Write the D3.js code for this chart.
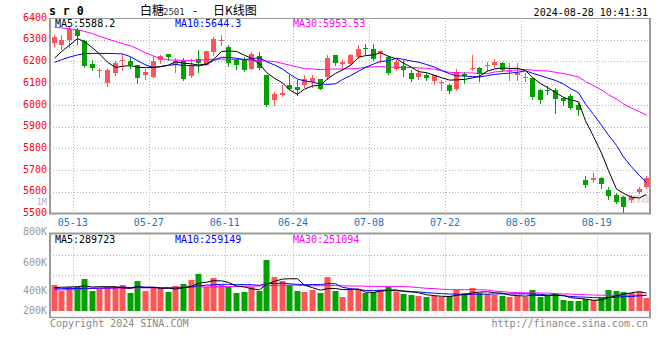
<!DOCTYPE html>
<html><head><meta charset="utf-8">
<script src="https://cdn.jsdelivr.net/npm/d3@7"></script>
<style>
html,body{margin:0;padding:0;background:#fff;}
svg{display:block;}
</style></head><body>
<svg id="c" width="660" height="360"></svg>
<script>
// ---------- DATA ----------
const dates = ["05-09","05-10","05-13","05-14","05-15","05-16","05-17","05-20","05-21","05-22","05-23","05-24","05-27","05-28","05-29","05-30","05-31","06-03","06-04","06-05","06-06","06-07","06-11","06-12","06-13","06-14","06-17","06-18","06-19","06-20","06-21","06-24","06-25","06-26","06-27","06-28","07-01","07-02","07-03","07-04","07-05","07-08","07-09","07-10","07-11","07-12","07-15","07-16","07-17","07-18","07-19","07-22","07-23","07-24","07-25","07-26","07-29","07-30","07-31","08-01","08-02","08-05","08-06","08-07","08-08","08-09","08-12","08-13","08-14","08-15","08-16","08-19","08-20","08-21","08-22","08-23","08-26","08-27","08-28"];
const opens = [6286,6277,6297,6343,6294,6186,6155,6102,6146,6203,
 6200,6185,6139,6128,6208,6232,6182,6200,6133,6212,
 6185,6243,6295,6266,6205,6212,6166,6223,6136,6021,
 6044,6090,6082,6093,6105,6117,6128,6228,6189,6189,
 6220,6262,6258,6239,6220,6166,6179,6146,6128,6136,
 6110,6100,6090,6071,6143,6166,6168,6177,6184,6191,
 6151,6138,6122,6122,6069,6070,6069,6030,6041,6000,
 5652,5652,5663,5609,5587,5575,5560,5598,5624];
const highs = [6323,6323,6358,6354,6297,6205,6169,6166,6200,6236,
 6220,6185,6166,6225,6231,6235,6217,6217,6212,6251,
 6246,6312,6320,6274,6212,6220,6243,6243,6139,6059,
 6090,6139,6113,6136,6139,6120,6228,6231,6208,6235,
 6274,6282,6282,6251,6223,6205,6205,6159,6166,6146,
 6139,6113,6097,6166,6151,6228,6174,6199,6210,6199,
 6191,6191,6145,6130,6072,6087,6076,6038,6050,6007,
 5673,5686,5670,5621,5594,5581,5586,5624,5673];
const lows = [6271,6259,6266,6282,6174,6159,6128,6087,6139,6159,
 6170,6102,6117,6128,6193,6205,6151,6113,6128,6151,
 6182,6228,6274,6179,6166,6154,6163,6166,5995,5998,
 6041,6074,6044,6082,6082,6071,6120,6185,6169,6185,
 6215,6235,6205,6197,6143,6159,6133,6108,6120,6116,
 6097,6067,6056,6067,6102,6159,6108,6157,6174,6154,
 6115,6115,6110,6025,6010,6050,5961,6000,5980,5953,
 5624,5646,5617,5566,5547,5504,5555,5594,5617];
const closes = [6312,6301,6348,6317,6179,6169,6160,6159,6194,6208,
 6182,6123,6150,6200,6223,6220,6200,6117,6185,6194,
 6246,6305,6300,6194,6185,6159,6235,6169,5998,6051,
 6054,6074,6067,6117,6123,6074,6217,6194,6197,6228,
 6258,6256,6212,6246,6146,6197,6159,6117,6146,6123,
 6136,6104,6062,6151,6133,6172,6140,6182,6199,6161,
 6155,6145,6130,6038,6022,6067,6026,6020,5984,5976,
 5630,5664,5636,5581,5552,5532,5575,5615,5665];
const volumes = [423,329,385,385,521,324,362,385,385,417,
 291,488,324,385,356,307,406,439,505,604,
 385,537,423,385,291,313,394,329,834,549,
 494,423,324,313,340,291,549,329,230,340,
 340,286,313,340,385,313,275,258,246,220,
 242,220,242,340,286,378,286,270,261,242,
 230,242,220,340,220,242,275,176,159,159,
 188,176,204,340,324,307,296,307,214].map(v => v * 1000);
// moving-average values before enough history is visible
const ma5Head = [6215,6245,6275,6305];
const ma10Head = [6196,6208,6220,6230,6236,6237,6237,6237,6236];
const ma30Head = [6358,6354,6350,6346,6338,6328,6316,6304,6292,6282,6272,6258,6240,6225,6214,6208,6206,6205,6205,6206,6208,6210,6211,6210,6209,6208,6206,6204,6202];
const volMa5Head = [380000,385000,390000,395000];
const volMa10Head = [360000,362000,364000,366000,368000,370000,372000,374000,376000];
const volMa30Head = [340000,342000,344000,346000,360000,365000,368000,370000,372000,373000,374000,375000,376000,378000,380000,382000,384000,386000,388000,390000,392000,394000,396000,398000,400000,402000,404000,406000,410000];
const dateTicks = ["05-13","05-27","06-11","06-24","07-08","07-22","08-05","08-19"];
const priceTicks = [5500,5600,5700,5800,5900,6000,6100,6200,6300,6400];
const volTicks = [200000,400000,600000,800000,1000000];
const priceLegend = ["MA5:5588.2","MA10:5644.3","MA30:5953.53"];
const volLegend = ["MA5:289723","MA10:259149","MA30:251094"];
const titleParts = ["白糖","2501","-","日K线图"];
const symbolText = "s r 0";
const timeText = "2024-08-28 10:41:31";
const copyText = "Copyright 2024 SINA.COM";
const urlText = "http://finance.sina.com.cn";

// ---------- LAYOUT ----------
const L = 50, R = 650;
const pTop = 18, pBot = 213.5;
const vTop = 233.5, vBot = 317.5, vBase = 310.7;
const RED = "#ff5555", GREEN = "#00a200";
const maColors = ["#000000", "#0000ff", "#ff00ff"];
const mono = "'DejaVu Sans Mono', monospace";

const svg = d3.select("#c");
const x = d3.scaleBand().domain(dates).range([L, R]).padding(0);
const bw = x.bandwidth();
const cx = d => Math.round(x(d) + bw / 2);
const y = d3.scaleLinear().domain([5500, 6400]).range([pBot, pTop]);
const yv = d3.scaleLinear().domain([0, 1270000]).range([vBase, vTop]);
const volLabelPos = d3.scaleLinear().domain(volTicks).range([310, 290, 262, 231, 201.5]);

function ma(vals, n, head) {
  return vals.map((v, i) => i < n - 1 ? head[i] : d3.mean(vals.slice(i - n + 1, i + 1)));
}

const gridColor = "#b4b4b4";
const frameColor = "#9a9a9a";

// ---------- PRICE GRID ----------
const grid = svg.append("g").attr("stroke", gridColor).attr("stroke-dasharray", "1,2").attr("stroke-width", 1);
priceTicks.filter(t => t > 5500 && t < 6400).forEach(t => {
  const yy = Math.round(y(t)) + 0.5;
  grid.append("line").attr("x1", L).attr("x2", R).attr("y1", yy).attr("y2", yy);
});
dateTicks.forEach(d => {
  const xx = Math.round(x(d) + bw) + 0.5;
  grid.append("line").attr("x1", xx).attr("x2", xx).attr("y1", pTop).attr("y2", pBot);
  grid.append("line").attr("x1", xx).attr("x2", xx).attr("y1", vTop).attr("y2", vBot);
});
[255.5, 275.5].forEach(yy => grid.append("line").attr("x1", L).attr("x2", R).attr("y1", yy).attr("y2", yy));

// clip paths
const defs = svg.append("defs");
defs.append("clipPath").attr("id", "pclip").append("rect").attr("x", L).attr("y", pTop).attr("width", R - L).attr("height", pBot - pTop);
defs.append("clipPath").attr("id", "vclip").append("rect").attr("x", L).attr("y", vTop).attr("width", R - L).attr("height", vBot - vTop);

// watermark
svg.append("text").attr("x", 618).attr("y", 203)
  .attr("font-family", "'DejaVu Sans', sans-serif").attr("font-style", "italic").attr("font-weight", "bold")
  .attr("font-size", 14).attr("fill", "#d6bcbc").attr("opacity", 0.55).text("sina");

// ---------- CANDLES ----------
const cg = svg.append("g").attr("clip-path", "url(#pclip)");
dates.forEach((d, i) => {
  const o = opens[i], c = closes[i], h = highs[i], l = lows[i];
  const col = c >= o ? RED : GREEN;
  const xc = cx(d);
  cg.append("line").attr("x1", xc + 0.5).attr("x2", xc + 0.5)
    .attr("y1", Math.round(y(h))).attr("y2", Math.round(y(l)) + 1).attr("stroke", col).attr("stroke-width", 1);
  const top = Math.round(y(Math.max(o, c)));
  const bot = Math.round(y(Math.min(o, c)));
  cg.append("rect").attr("x", xc - 2).attr("width", 5).attr("y", top).attr("height", Math.max(1, bot - top))
    .attr("fill", col);
});

// ---------- PRICE MA LINES ----------
const maSeries = [ma(closes, 5, ma5Head), ma(closes, 10, ma10Head), ma(closes, 30, ma30Head)];
const lg = svg.append("g").attr("clip-path", "url(#pclip)");
[2, 1, 0].forEach(k => {
  lg.append("path").datum(maSeries[k])
    .attr("d", d3.line().x((v, i) => cx(dates[i]) + 0.5).y(v => y(v)))
    .attr("fill", "none").attr("stroke", maColors[k]).attr("stroke-width", 1);
});

// ---------- VOLUME BARS ----------
const vg = svg.append("g").attr("clip-path", "url(#vclip)");
dates.forEach((d, i) => {
  const col = closes[i] >= opens[i] ? RED : GREEN;
  const top = Math.round(yv(volumes[i]));
  vg.append("rect").attr("x", cx(d) - 2.5).attr("width", 6).attr("y", top).attr("height", Math.round(vBase) - top)
    .attr("fill", col);
});
const volMa = [ma(volumes, 5, volMa5Head), ma(volumes, 10, volMa10Head), ma(volumes, 30, volMa30Head)];
[2, 1, 0].forEach(k => {
  vg.append("path").datum(volMa[k])
    .attr("d", d3.line().x((v, i) => cx(dates[i]) + 0.5).y(v => yv(v)))
    .attr("fill", "none").attr("stroke", maColors[k]).attr("stroke-width", 1);
});

// ---------- FRAMES ----------
const fr = svg.append("g").attr("stroke", frameColor).attr("fill", "none");
fr.append("line").attr("x1", L).attr("x2", R + 1).attr("y1", pTop + 0.5).attr("y2", pTop + 0.5).attr("stroke-width", 1);
fr.append("line").attr("x1", L).attr("x2", L).attr("y1", pTop).attr("y2", pBot + 1).attr("stroke-width", 2);
fr.append("line").attr("x1", R).attr("x2", R).attr("y1", pTop).attr("y2", pBot + 1).attr("stroke-width", 2);
fr.append("line").attr("x1", L - 1).attr("x2", R + 1).attr("y1", pBot).attr("y2", pBot).attr("stroke-width", 2);
fr.append("line").attr("x1", L - 1).attr("x2", R + 1).attr("y1", vTop).attr("y2", vTop).attr("stroke-width", 2);
fr.append("line").attr("x1", L).attr("x2", L).attr("y1", vTop).attr("y2", vBot).attr("stroke-width", 2);
fr.append("line").attr("x1", R).attr("x2", R).attr("y1", vTop).attr("y2", vBot).attr("stroke-width", 2);
fr.append("line").attr("x1", L - 1).attr("x2", R + 1).attr("y1", vBot).attr("y2", vBot).attr("stroke-width", 1.5);

// ---------- AXES ----------
const yAxis = svg.append("g").attr("transform", "translate(47,-1)")
  .call(d3.axisLeft(y).tickValues(priceTicks).tickSize(0).tickPadding(0).tickFormat(d3.format("d")));
yAxis.select(".domain").remove();
yAxis.selectAll("text").attr("fill", "#ff0000").attr("font-family", mono).attr("font-size", 10);

const vAxis = svg.append("g").attr("transform", "translate(47,0)")
  .call(d3.axisLeft(volLabelPos).tickValues(volTicks).tickSize(0).tickPadding(0)
    .tickFormat(d => d >= 1000000 ? (d / 1000000) + "M" : (d / 1000) + "K"));
vAxis.select(".domain").remove();
vAxis.selectAll("text").attr("fill", d => d >= 1000000 ? "#b0b0b0" : "#999999").attr("font-family", mono)
  .attr("font-size", d => d >= 1000000 ? 8.5 : 10);

const xAxis = svg.append("g").attr("transform", `translate(${bw / 2},${pBot + 3})`)
  .call(d3.axisBottom(x).tickValues(dateTicks).tickSize(0).tickPadding(0));
xAxis.select(".domain").remove();
xAxis.selectAll("text").attr("fill", "#1a74c4").attr("font-family", mono).attr("font-size", 10).attr("dy", "0.9em");

// ---------- TEXTS ----------
svg.append("text").attr("x", 49).attr("y", 15).attr("font-family", mono).attr("font-weight", "bold")
  .attr("font-size", 11.5).attr("fill", "#000").text(symbolText);
const title = svg.append("text").attr("y", 15).attr("fill", "#000");
title.append("tspan").attr("x", 140).attr("font-family", "'Noto Sans CJK SC', sans-serif").attr("font-size", 12).text(titleParts[0]);
title.append("tspan").attr("x", 163).attr("font-family", mono).attr("font-size", 9).attr("fill", "#333").text(titleParts[1]);
title.append("tspan").attr("x", 193).attr("font-family", "'Noto Sans CJK SC', sans-serif").attr("font-size", 12).text(titleParts[2]);
title.append("tspan").attr("x", 213).attr("font-family", "'Noto Sans CJK SC', sans-serif").attr("font-size", 12).text(titleParts[3]);
svg.append("text").attr("x", 648).attr("y", 15.5).attr("text-anchor", "end").attr("font-family", mono)
  .attr("font-size", 10).attr("fill", "#000").text(timeText);

const legX = [55, 175, 293];
priceLegend.forEach((t, k) => svg.append("text").attr("x", legX[k]).attr("y", 27).attr("font-family", mono)
  .attr("font-size", 10).attr("fill", maColors[k]).text(t));
volLegend.forEach((t, k) => svg.append("text").attr("x", legX[k]).attr("y", 242.5).attr("font-family", mono)
  .attr("font-size", 10).attr("fill", maColors[k]).text(t));

svg.append("text").attr("x", 50).attr("y", 327).attr("font-family", mono).attr("font-size", 10)
  .attr("fill", "#888").text(copyText);
svg.append("text").attr("x", 648).attr("y", 327).attr("text-anchor", "end").attr("font-family", mono)
  .attr("font-size", 10).attr("fill", "#888").text(urlText);
</script>
</body></html>
